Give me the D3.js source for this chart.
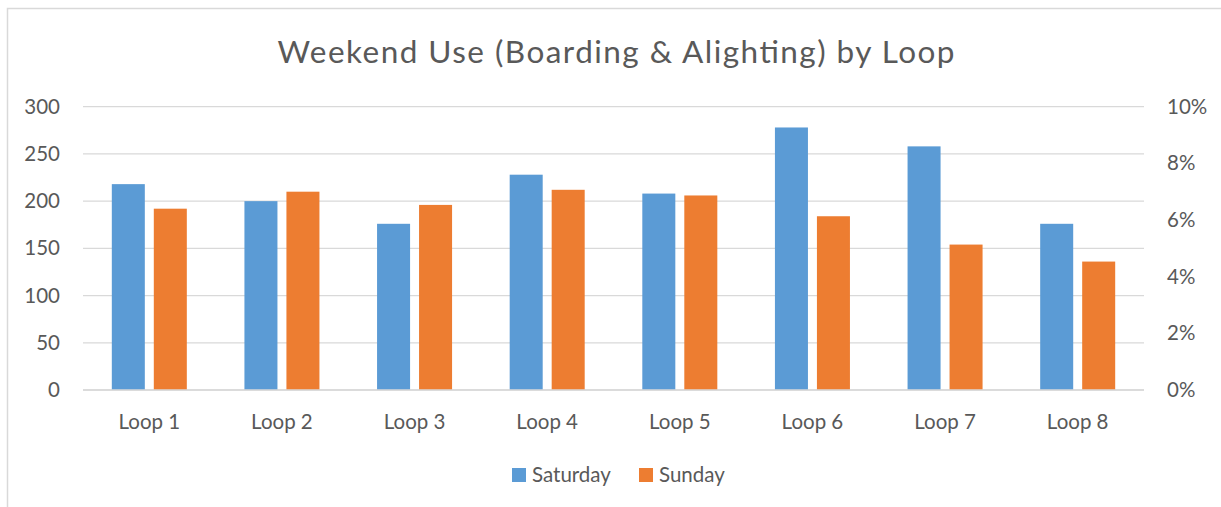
<!DOCTYPE html>
<html>
<head>
<meta charset="utf-8">
<script src="https://cdn.jsdelivr.net/npm/d3@7"></script>
<style>
  body { margin: 0; background: #fff; }
  svg { display: block; font-family: Lato, "Open Sans", sans-serif; }
  .axis path, .axis line { display: none; }
  .axis text { fill: #595959; font-size: 20.5px; font-family: Lato, "Open Sans", sans-serif; }
</style>
</head>
<body>
<svg id="chart" width="1221" height="507"></svg>
<script>
// ---------------------------------------------
// data
// ---------------------------------------------
var loops = ["Loop 1", "Loop 2", "Loop 3", "Loop 4", "Loop 5", "Loop 6", "Loop 7", "Loop 8"];
var seriesNames = ["Saturday", "Sunday"];
var saturday = [218, 200, 176, 228, 208, 278, 258, 176];
var sunday = [192, 210, 196, 212, 206, 184, 154, 136];
var leftTicks = [0, 50, 100, 150, 200, 250, 300];
var rightTicks = [0, 0.02, 0.04, 0.06, 0.08, 0.10];
var colours = ["#5B9BD5", "#ED7D31"];

var svg = d3.select("#chart");
var margin = {left: 83, right: 1144, top: 106.7, bottom: 390};

// outer chart border
svg.append("rect")
    .attr("x", 7.5).attr("y", 8.5)
    .attr("width", 1230).attr("height", 520)
    .attr("fill", "none")
    .attr("stroke", "#d9d9d9")
    .attr("stroke-width", 1.5);

svg.append("text")
    .attr("x", 616).attr("y", 63)
    .attr("text-anchor", "middle")
    .attr("fill", "#595959")
    .attr("font-size", 31.5)
    .attr("textLength", 677)
    .attr("lengthAdjust", "spacing")
    .text("Weekend Use (Boarding & Alighting) by Loop");

var x0 = d3.scaleBand().domain(loops).range([margin.left, margin.right]);
var x1 = d3.scaleBand().domain(seriesNames)
    .range([0, x0.bandwidth()])
    .paddingInner(0.214).paddingOuter(0.686);
var y = d3.scaleLinear().domain([0, 300]).range([margin.bottom, margin.top]);
var y2 = d3.scaleLinear().domain([0, 0.1]).range([margin.bottom, margin.top]);
var z = d3.scaleOrdinal().domain(seriesNames).range(colours);

// gridlines
svg.append("g")
    .selectAll("line")
    .data(leftTicks)
    .enter().append("line")
    .attr("x1", margin.left).attr("x2", margin.right)
    .attr("y1", function(d) { return y(d); })
    .attr("y2", function(d) { return y(d); })
    .attr("stroke", "#d9d9d9")
    .attr("stroke-width", 1.3);

var rows = [];
loops.forEach(function(l, i) {
    rows.push({loop: l, series: "Saturday", value: saturday[i]});
    rows.push({loop: l, series: "Sunday", value: sunday[i]});
});

svg.append("g")
    .selectAll("rect")
    .data(rows)
    .enter().append("rect")
    .attr("x", function(d) { return x0(d.loop) + x1(d.series); })
    .attr("y", function(d) { return y(d.value); })
    .attr("width", x1.bandwidth())
    .attr("height", function(d) { return y(0) - y(d.value); })
    .attr("fill", function(d) { return z(d.series); });

// baseline
svg.append("line")
    .attr("x1", margin.left).attr("x2", margin.right)
    .attr("y1", y(0)).attr("y2", y(0))
    .attr("stroke", "#d9d9d9").attr("stroke-width", 1.3);

svg.append("g")
    .attr("class", "axis")
    .attr("transform", "translate(" + (margin.left - 4) + ",0)")
    .call(d3.axisLeft(y).tickValues(leftTicks).tickSize(0).tickPadding(19));

svg.append("g")
    .attr("class", "axis")
    .attr("transform", "translate(" + margin.right + ",0)")
    .call(d3.axisRight(y2).tickValues(rightTicks).tickSize(0).tickPadding(23).tickFormat(d3.format(".0%")));

svg.append("g")
    .attr("class", "axis")
    .attr("transform", "translate(0," + margin.bottom + ")")
    .call(d3.axisBottom(x0).tickSize(0).tickPadding(24));

// legend
var legendX = [512, 639];
var legend = svg.append("g")
    .selectAll("g")
    .data(seriesNames)
    .enter().append("g")
    .attr("transform", function(d, i) { return "translate(" + legendX[i] + ",468)"; });

legend.append("rect")
    .attr("width", 14).attr("height", 14)
    .attr("fill", z);

legend.append("text")
    .attr("x", 20).attr("y", 14)
    .attr("fill", "#595959")
    .attr("font-size", 20.5)
    .text(function(d) { return d; });
</script>
</body>
</html>
